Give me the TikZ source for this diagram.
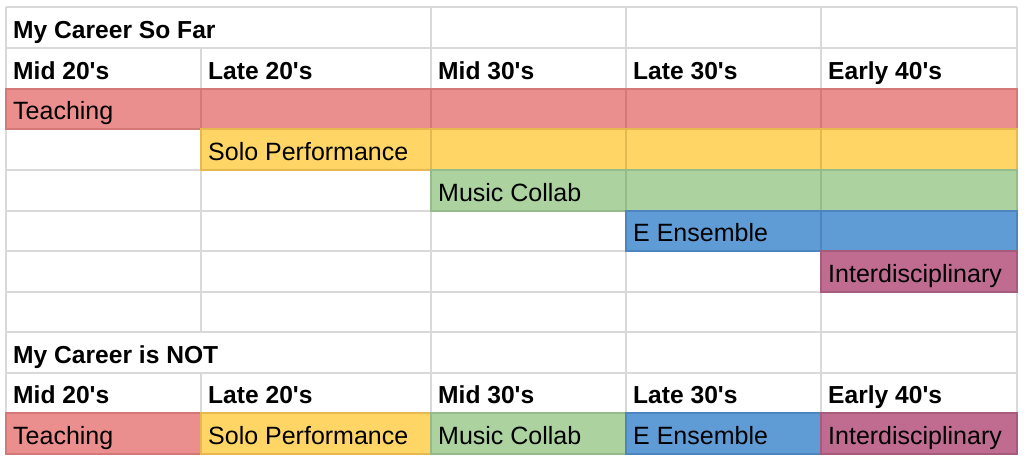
\documentclass[tikz,border=0pt]{standalone}
\usepackage{fontspec}
\setmainfont{Liberation Sans}
\definecolor{gridc}{HTML}{D9D9D9}
\definecolor{pinkf}{HTML}{EA8E8E}
\definecolor{pinkd}{HTML}{D47878}
\definecolor{yelf}{HTML}{FFD666}
\definecolor{yeld}{HTML}{E6B84F}
\definecolor{grnf}{HTML}{ABD29F}
\definecolor{grnd}{HTML}{95BB8A}
\definecolor{bluf}{HTML}{5F9CD5}
\definecolor{blud}{HTML}{4E85BE}
\definecolor{purf}{HTML}{C06C91}
\definecolor{purd}{HTML}{A65A7C}
\tikzset{
  grid line/.style={draw=gridc, line width=1.5pt},
  cell/.style={line width=1.5pt},
  txt/.style={anchor=base west, inner sep=0pt, font=\fontsize{25}{30}\selectfont, text=black},
  hdr/.style={txt, font=\fontsize{24.6}{30}\selectfont\bfseries},
}
\begin{document}
\begin{tikzpicture}[x=1pt,y=-1pt]
\useasboundingbox (0,0) rectangle (1024,464);
\fill[white] (0,0) rectangle (1024,464);
% horizontal grid lines
\foreach \y in {7,48,89,129,170,211,251,292,332,373,413,454}
  \draw[grid line] (6,\y) -- (1017,\y);
% vertical grid lines
\draw[grid line] (6,7) -- (6,454);
\draw[grid line] (1017,7) -- (1017,454);
\draw[grid line] (201,48) -- (201,332);
\draw[grid line] (201,373) -- (201,454);
\foreach \x in {431,626,821}
  \draw[grid line] (\x,7) -- (\x,454);
% coloured cells, upper table
\foreach \a/\b in {6/201,201/431,431/626,626/821,821/1017}
  \filldraw[cell, fill=pinkf, draw=pinkd] (\a,89) rectangle (\b,129);
\foreach \a/\b in {201/431,431/626,626/821,821/1017}
  \filldraw[cell, fill=yelf, draw=yeld] (\a,129) rectangle (\b,170);
\foreach \a/\b in {431/626,626/821,821/1017}
  \filldraw[cell, fill=grnf, draw=grnd] (\a,170) rectangle (\b,211);
\foreach \a/\b in {626/821,821/1017}
  \filldraw[cell, fill=bluf, draw=blud] (\a,211) rectangle (\b,251);
\filldraw[cell, fill=purf, draw=purd] (821,251) rectangle (1017,292);
% coloured cells, lower table
\filldraw[cell, fill=pinkf, draw=pinkd] (6,413) rectangle (201,454);
\filldraw[cell, fill=yelf, draw=yeld] (201,413) rectangle (431,454);
\filldraw[cell, fill=grnf, draw=grnd] (431,413) rectangle (626,454);
\filldraw[cell, fill=bluf, draw=blud] (626,413) rectangle (821,454);
\filldraw[cell, fill=purf, draw=purd] (821,413) rectangle (1017,454);
% texts, upper table
\node[hdr] (t1) at (13,38) {My Career So Far};
\node[hdr] (h1a) at (13,79) {Mid 20\textquotesingle s};
\node[hdr] (h1b) at (208,79) {Late 20\textquotesingle s};
\node[hdr] (h1c) at (438,79) {Mid 30\textquotesingle s};
\node[hdr] (h1d) at (633,79) {Late 30\textquotesingle s};
\node[hdr] (h1e) at (828,79) {Early 40\textquotesingle s};
\node[txt] (u1) at (13,119) {Teaching};
\node[txt] (u2) at (208,160) {Solo Performance};
\node[txt] (u3) at (438,201) {Music Collab};
\node[txt] (u4) at (633,241) {E Ensemble};
\node[txt] (u5) at (828,282) {Interdisciplinary};
% texts, lower table
\node[hdr] (t2) at (13,363) {My Career is NOT};
\node[hdr] (h2a) at (13,403) {Mid 20\textquotesingle s};
\node[hdr] (h2b) at (208,403) {Late 20\textquotesingle s};
\node[hdr] (h2c) at (438,403) {Mid 30\textquotesingle s};
\node[hdr] (h2d) at (633,403) {Late 30\textquotesingle s};
\node[hdr] (h2e) at (828,403) {Early 40\textquotesingle s};
\node[txt] (l1) at (13,444) {Teaching};
\node[txt] (l2) at (208,444) {Solo Performance};
\node[txt] (l3) at (438,444) {Music Collab};
\node[txt] (l4) at (633,444) {E Ensemble};
\node[txt] (l5) at (828,444) {Interdisciplinary};
\end{tikzpicture}
\end{document}
